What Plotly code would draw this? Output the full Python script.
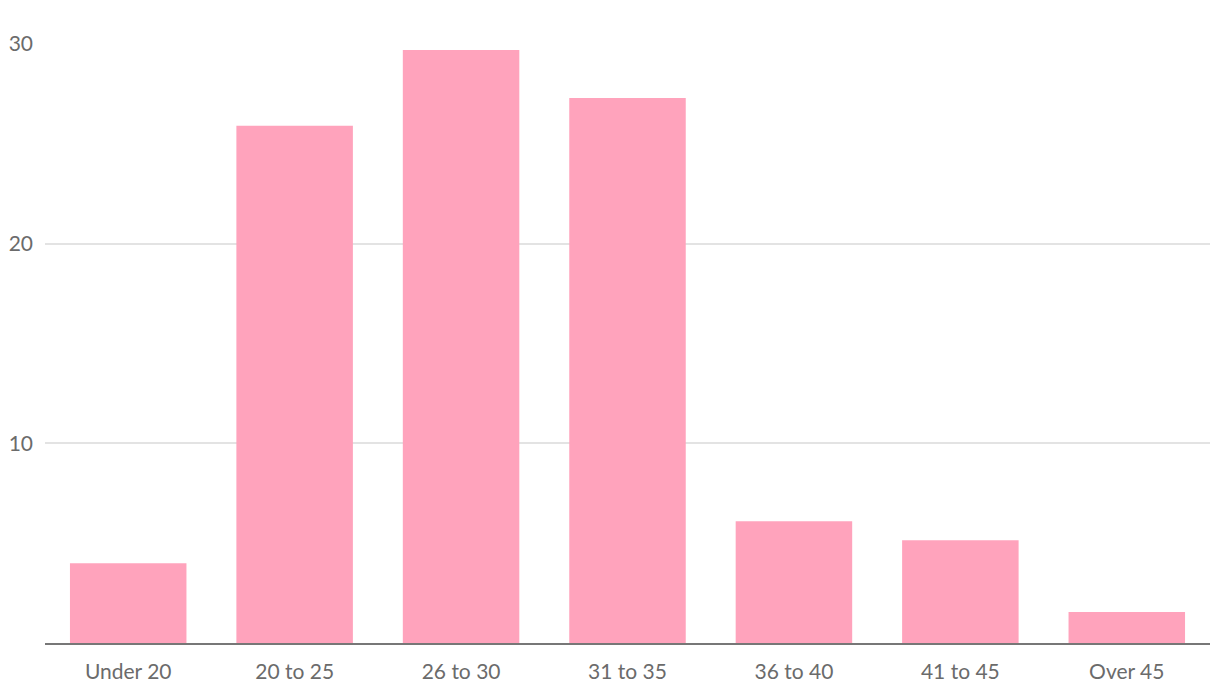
import plotly.graph_objects as go

categories = ["Under 20", "20 to 25", "26 to 30", "31 to 35", "36 to 40", "41 to 45", "Over 45"]
values = [4.0, 25.9, 29.7, 27.3, 6.1, 5.15, 1.55]
y_ticks = [10, 20, 30]

fig = go.Figure(go.Bar(x=categories, y=values, marker=dict(color="#ffa3bc", line=dict(width=0)),
                       hoverinfo="x+y"))

font = dict(family="Source Sans Pro, Lato, Open Sans, sans-serif", size=21, color="#6b6b6b")
fig.update_layout(
    width=1220, height=700,
    margin=dict(l=37, r=18, t=36, b=65, autoexpand=False),
    paper_bgcolor="white", plot_bgcolor="white",
    bargap=0.3, showlegend=False, font=font,
    xaxis=dict(showline=True, linecolor="#777777", linewidth=2, showgrid=False,
               ticks="", tickfont=font, ticklabelstandoff=9, automargin=False),
    yaxis=dict(range=[0, 30], tickvals=y_ticks, showgrid=True, gridcolor="#e3e3e3", gridwidth=2,
               zeroline=False, showline=False, ticks="", tickfont=font, ticklabelstandoff=11,
               automargin=False),
)
fig.write_html("out.html")
